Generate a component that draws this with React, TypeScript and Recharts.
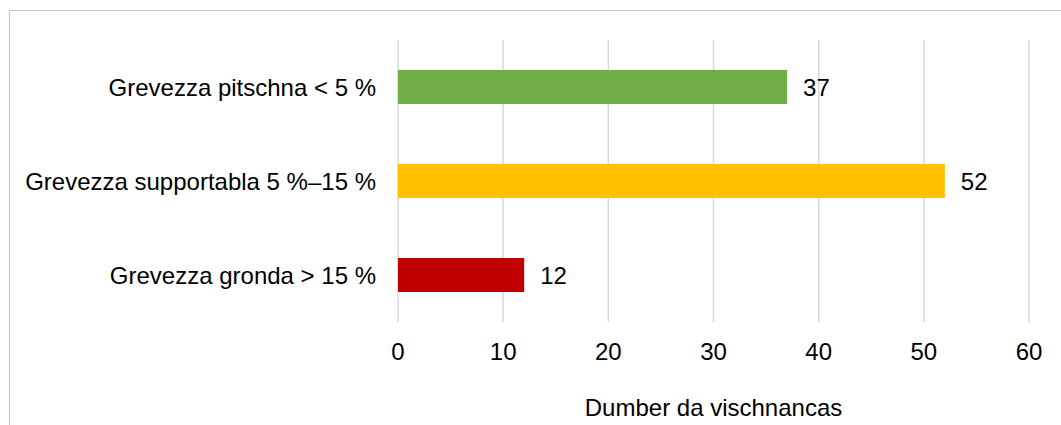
import { Bar, BarChart, CartesianGrid, Cell, LabelList, XAxis, YAxis } from 'recharts'

const categories = [
  'Grevezza pitschna < 5 %',
  'Grevezza supportabla 5 %–15 %',
  'Grevezza gronda > 15 %',
]
const counts = [37, 52, 12]
const barColors = ['#70ad47', '#ffc000', '#c00000']
const xTicks = [0, 10, 20, 30, 40, 50, 60]
const axisTitle = 'Dumber da vischnancas'

const data = categories.map((name, i) => ({ name, value: counts[i] }))

const font = { fontFamily: 'Liberation Sans, Arial, sans-serif', fontSize: 24, fill: '#000' }

export default function App() {
  return (
    <div style={{ position: 'relative', width: 1061, height: 425, overflow: 'hidden', background: '#fff' }}>
      <style>{'body{margin:0}'}</style>
      <div
        style={{
          position: 'absolute',
          left: 9,
          top: 10,
          width: 1200,
          height: 600,
          borderLeft: '1px solid #c6c6c6',
          borderTop: '1px solid #c6c6c6',
        }}
      />
      <div style={{ position: 'absolute', left: 0, top: 0 }}>
        <BarChart
          width={1061}
          height={425}
          data={data}
          layout="vertical"
          margin={{ top: 40, right: 32, bottom: 0, left: 0 }}
        >
          <CartesianGrid horizontal={false} stroke="#d9d9d9" strokeWidth={1.5} />
          <XAxis
            type="number"
            domain={[0, 60]}
            ticks={xTicks}
            axisLine={false}
            tickLine={false}
            tickSize={0}
            tickMargin={21}
            height={103}
            tick={font}
            label={{ value: axisTitle, position: 'insideBottom', offset: 9, style: font }}
          />
          <YAxis
            type="category"
            dataKey="name"
            width={398}
            axisLine={false}
            tickLine={false}
            tickSize={0}
            tickMargin={22}
            tick={font}
          />
          <Bar dataKey="value" barSize={34} isAnimationActive={false}>
            {data.map((d, i) => (
              <Cell key={d.name} fill={barColors[i]} />
            ))}
            <LabelList dataKey="value" position="right" offset={16} style={font} />
          </Bar>
        </BarChart>
      </div>
    </div>
  )
}
